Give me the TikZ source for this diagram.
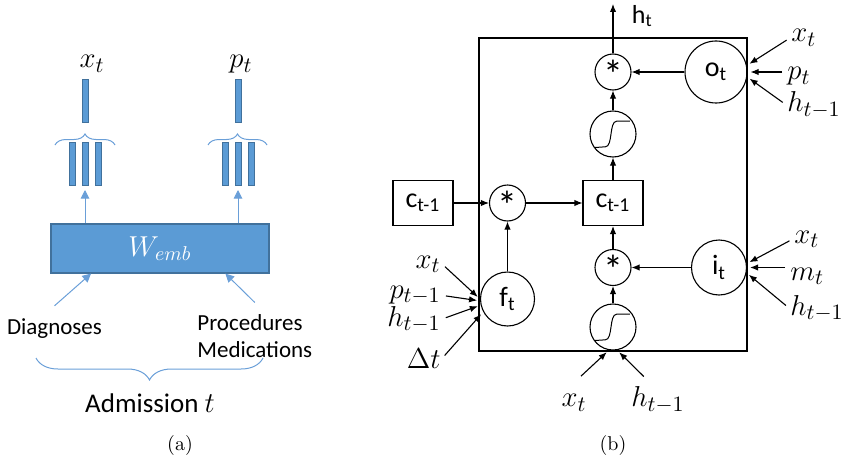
\documentclass[tikz,border=0pt]{standalone}
\usepackage{fontspec}
\newfontfamily\calibri{Carlito}
\usepackage{tikz}
\usetikzlibrary{arrows.meta, positioning, calc, decorations.pathreplacing}
\definecolor{embcolor}{HTML}{5B9BD5}
\definecolor{embdark}{HTML}{41719C}
\definecolor{linkcolor}{HTML}{6A9FD8}
\newcommand{\prodsign}{\raisebox{-0.58em}[0pt][0pt]{\fontsize{20}{20}\selectfont *}}

\begin{document}
\begin{tikzpicture}[x=0.5pt, y=-0.5pt,
    bar/.style={rectangle, draw=embdark, fill=embcolor, line width=0.5pt, minimum width=3pt, minimum height=#1, inner sep=0pt},
    embbox/.style={rectangle, draw=embdark, fill=embcolor, line width=0.6pt, minimum width=109pt, minimum height=24.5pt, text=white, font=\fontsize{14}{16}\selectfont},
    word/.style={inner sep=0pt, align=left, font=\calibri\fontsize{#1}{13.5}\selectfont},
    sym/.style={inner sep=0.5pt, font=\fontsize{15}{17}\selectfont},
    bluearrow/.style={-{Triangle[length=4.3pt, width=4.3pt]}, linkcolor, line width=0.5pt},
    bluebrace/.style={decorate, decoration={brace, amplitude=#1}, linkcolor, line width=0.5pt},
    cellbox/.style={rectangle, draw, line width=0.55pt, minimum width=30pt, minimum height=22.5pt, inner sep=0pt, font=\calibri\fontsize{14}{16}\selectfont},
    gate/.style={circle, draw, line width=0.55pt, minimum size=#1, inner sep=0pt, font=\calibri\fontsize{14}{16}\selectfont},
    mult/.style={gate=18pt},
    squash/.style={gate=23pt, path picture={\draw[line width=0.5pt, shift={(path picture bounding box.center)}] (-9.7pt,-6.8pt) -- (-3.8pt,-6.4pt) .. controls (0pt,-6.4pt) and (-2pt,6.4pt) .. (1.8pt,6.4pt) -- (8.4pt,6.4pt);}},
    arrow/.style={-{Latex[length=4pt, width=3.2pt]}, line width=0.55pt},
    inarrow/.style={arrow, shorten <=2pt, shorten >=1.5pt}
]
\useasboundingbox (0,0) rectangle (849,465);

% Panel (a): embedding of one admission
\node[embbox] (W) at (160,248.5) {$W_{emb}$};

% Code vectors and their summed embeddings
\node[bar=21pt] (xv) at (85,101) {};
\node[bar=21.5pt] (x1) at (72,164) {};
\node[bar=21.5pt] (x2) at (85,164) {};
\node[bar=21.5pt] (x3) at (98,164) {};
\node[bar=21pt] (pv) at (238.5,101) {};
\node[bar=21.5pt] (p1) at (225,164) {};
\node[bar=21.5pt] (p2) at (238,164) {};
\node[bar=21.5pt] (p3) at (251,164) {};

\node[sym, anchor=base] (xlab) at (92,68) {$x_t$};
\node[sym, anchor=base] (plab) at (241,68) {$p_t$};

\draw[bluebrace=5.5pt] (55,145) -- (115,145);
\draw[bluebrace=5.5pt] (208,145) -- (267,145);

\draw[bluearrow, shorten >=2pt] (x2.south |- W.north) -- (x2.south);
\draw[bluearrow, shorten >=2pt] (p2.south |- W.north) -- (p2.south);

% Inputs of the admission
\node[word=11.5, anchor=base] (diag) at (54.5,334) {Diagnoses};
\node[word=11.5, anchor=north west] (proc) at (197,314.5) {Procedures\\Medications};
\draw[bluearrow] ([yshift=6pt]diag.north) -- (W.200);
\draw[bluearrow] ([yshift=6pt]proc.north) -- (W.339);

\draw[bluebrace=11pt] (263,358) -- (36,358);
\node[word=13.5, anchor=base] (adm) at (150,412.5) {Admission $t$};
\node[anchor=base] (capa) at (180,450) {(a)};

% Panel (b): LSTM cell
\draw[line width=0.55pt] (479,38) rectangle (747,351);

% Cell state path
\node[cellbox] (cprev) at (423,203) {c\textsubscript{t-1}};
\node[mult] (mf) at (507.5,203) {\prodsign};
\node[cellbox] (cnew) at (613,203) {c\textsubscript{t-1}};

% Output branch
\node[mult] (mo) at (613,72) {\prodsign};
\node[squash] (so) at (613,134) {};
\node[gate=31pt] (ot) at (716,72) {o\textsubscript{t}};
\coordinate (hout) at (613,4);
\node[anchor=base west, inner sep=0pt, font=\calibri\fontsize{13}{15}\selectfont] (hlab) at (631.5,23.3) {h\textsubscript{t}};

% Forget branch
\node[gate=27pt] (ft) at (507.5,299) {f\textsubscript{t}};

% Input branch
\node[mult] (mi) at (613,267.5) {\prodsign};
\node[gate=27.5pt] (it) at (719,267.5) {i\textsubscript{t}};
\node[squash] (si) at (613,327) {};

\draw[arrow] (cprev) -- (mf);
\draw[arrow] (mf) -- (cnew);
\draw[arrow] (ft) -- (mf);
\draw[arrow] (cnew) -- (so);
\draw[arrow] (so) -- (mo);
\draw[arrow] (ot) -- (mo);
\draw[arrow] (mo) -- (hout);
\draw[arrow] (si) -- (mi);
\draw[arrow] (it) -- (mi);
\draw[arrow] (mi) -- (cnew);

% Inputs of the output gate
\node[sym, anchor=base west] (xo) at (790,42) {$x_t$};
\node[sym, anchor=base west] (po) at (786,80) {$p_t$};
\node[sym, anchor=base west] (ho) at (786,111.7) {$h_{t-1}$};
\draw[inarrow] (xo.west) -- (ot.12);
\draw[inarrow] (po.west |- ot.east) -- (ot.east);
\draw[inarrow] (ho.west) -- (ot.-9);

% Inputs of the input gate
\node[sym, anchor=base west] (xi) at (793,243) {$x_t$};
\node[sym, anchor=base west] (mti) at (789,280) {$m_t$};
\node[sym, anchor=base west] (hi) at (789,315) {$h_{t-1}$};
\draw[inarrow] (xi.west) -- (it.8);
\draw[inarrow] (mti.west |- it.east) -- (it.east);
\draw[inarrow] (hi.west) -- (it.-11);

% Inputs of the forget gate
\node[sym, anchor=base east] (xf) at (442,268) {$x_t$};
\node[sym, anchor=base east] (pf) at (442,298.5) {$p_{t-1}$};
\node[sym, anchor=base east] (hf) at (442,326) {$h_{t-1}$};
\node[sym, anchor=base east] (df) at (442,368.3) {$\Delta t$};
\draw[inarrow] (xf.east) -- (ft.180);
\draw[inarrow] (pf.east) -- (ft.184);
\draw[inarrow] (hf.east) -- (ft.193);
\draw[inarrow] (df.east) -- (ft.208);

% Inputs of the candidate
\node[sym, anchor=base] (xb) at (574,406.7) {$x_t$};
\node[sym, anchor=base] (hb) at (658,406.7) {$h_{t-1}$};
\draw[inarrow] ([xshift=2pt,yshift=7pt]xb.north) -- (si.260);
\draw[inarrow] ([xshift=-5.7pt,yshift=3pt]hb.north) -- (si.280);

\node[anchor=base] (capb) at (613,450) {(b)};
\end{tikzpicture}
\end{document}
